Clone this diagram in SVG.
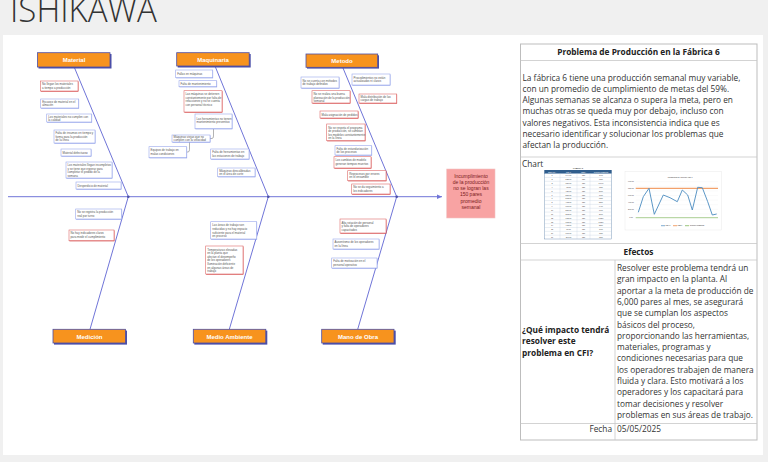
<svg xmlns="http://www.w3.org/2000/svg" width="768" height="462" viewBox="0 0 768 462">
<defs>
<style>
.bone{stroke:#7075d8;stroke-width:1;fill:none}
.cat rect.bg{fill:#f7931e;stroke:#4b4fa8;stroke-width:0.8}
.cat rect.sh{fill:#4b4fa8}
.cat text{font-family:"Liberation Sans",Arial,sans-serif;font-size:6px;font-weight:bold;fill:#fff;text-anchor:middle}
.sb rect.sh{fill:#8fa0ea}
.sb rect.bx{fill:#fff;stroke:#9aa8ec;stroke-width:0.6}
.sr rect.sh{fill:#d23b3b}
.sr rect.bx{fill:#fff;stroke:#de6b6b;stroke-width:0.6}
.sm text{font-family:"Liberation Sans",Arial,sans-serif;font-size:2.9px;fill:#555}
.tb{font-family:"Open Sans","Noto Sans",sans-serif;font-size:8.3px;fill:#333}
.tbb{font-family:"Open Sans","Noto Sans",sans-serif;font-size:8.3px;font-weight:bold;fill:#222}
.grid{stroke:#c8c8c8;stroke-width:0.8;fill:none}
.tt{font-family:"Liberation Sans",Arial,sans-serif;font-size:1.9px;fill:#333;text-anchor:middle}
.link{stroke:#666;stroke-width:0.5;fill:none}
</style>
<marker id="arr" markerWidth="6" markerHeight="6" refX="5" refY="3" orient="auto" markerUnits="userSpaceOnUse">
<path d="M0,0.8 L5,3 L0,5.2 z" fill="#7075d8"/>
</marker>
</defs>
<rect x="0" y="0" width="768" height="462" fill="#f0f0f0"/>
<text x="10" y="22" font-family="'Open Sans','Noto Sans',sans-serif" font-weight="300" font-size="34" fill="#333" textLength="147" lengthAdjust="spacingAndGlyphs">ISHIKAWA</text>
<rect x="3" y="35" width="760" height="420" fill="#fff"/>

<g id="connectors">
<line class="bone" x1="8" y1="196.7" x2="442" y2="196.7" marker-end="url(#arr)"/>
<line class="bone" x1="74.3" y1="67.3" x2="128.3" y2="196.7"/>
<line class="bone" x1="215" y1="66" x2="268.3" y2="196.7"/>
<line class="bone" x1="342.7" y1="67.3" x2="396.7" y2="196.7"/>
<line class="bone" x1="90" y1="329.3" x2="128.3" y2="196.7"/>
<line class="bone" x1="229.3" y1="329.3" x2="268.3" y2="196.7"/>
<line class="bone" x1="357.7" y1="329.3" x2="396.7" y2="196.7"/>
<circle cx="128.3" cy="196.7" r="1.3" fill="#4b4fa8"/>
<circle cx="268.3" cy="196.7" r="1.3" fill="#4b4fa8"/>
<circle cx="396.7" cy="196.7" r="1.3" fill="#4b4fa8"/>
<path class="link" d="M210,138.5 H212 Q213.5,138.5 213.5,136 V128.7"/>
<path class="link" d="M186.7,152 H188 Q189.5,152 189.5,149.5 V142"/>
</g>

<g id="effect">
<rect x="446.7" y="169" width="48.3" height="49" fill="#f8a3a3" stroke="#f2c4c4" stroke-width="0.6"/>
<g font-family="'Liberation Sans',Arial,sans-serif" font-size="5px" fill="#7a2020" text-anchor="middle">
<text x="471" y="177.5">Incumplimiento</text>
<text x="471" y="183.5">de la producción</text>
<text x="471" y="189.5">no se logran las</text>
<text x="471" y="196">150 pares</text>
<text x="471" y="202.5">promedio</text>
<text x="471" y="209">semanal</text>
</g>
</g>

<g id="cat-material" class="cat"><rect class="sh" x="38.5" y="54" width="73" height="14.5"/><rect class="bg" x="37.5" y="52.7" width="72.5" height="14.3"/><text x="74" y="62.2">Material</text></g>
<g id="cat-maquinaria" class="cat"><rect class="sh" x="177.7" y="54" width="73" height="13.5"/><rect class="bg" x="176.7" y="52.7" width="72.5" height="13.3"/><text x="213" y="61.8">Maquinaria</text></g>
<g id="cat-metodo" class="cat"><rect class="sh" x="307" y="55.3" width="72" height="13.3"/><rect class="bg" x="306" y="54" width="71.7" height="13.3"/><text x="342" y="63">Metodo</text></g>
<g id="cat-medicion" class="cat"><rect class="sh" x="54" y="330.6" width="73" height="14"/><rect class="bg" x="53" y="329.3" width="72.5" height="13.7"/><text x="89.5" y="338.5">Medición</text></g>
<g id="cat-medio" class="cat"><rect class="sh" x="194.3" y="330.6" width="73" height="14"/><rect class="bg" x="193.3" y="329.3" width="72.5" height="13.7"/><text x="229.5" y="338.5">Medio Ambiente</text></g>
<g id="cat-mano" class="cat"><rect class="sh" x="322.7" y="330.6" width="73" height="14"/><rect class="bg" x="321.7" y="329.3" width="72.3" height="13.7"/><text x="358" y="338.5">Mano de Obra</text></g>

<!-- Material causes -->
<g id="m1" class="sm sr"><rect class="sh" x="40.9" y="81.4" width="37.5" height="10.2"/><rect class="bx" x="40.5" y="81" width="37.5" height="10"/><text x="42" y="85">No llegan los materiales</text><text x="42" y="88.6">a tiempo a producción</text></g>
<g id="m2" class="sm sb"><rect class="sh" x="41.1" y="99.4" width="38" height="9.2"/><rect class="bx" x="40.7" y="99" width="38" height="9"/><text x="42.2" y="102.8">Escasez de material en el</text><text x="42.2" y="106.3">almacén</text></g>
<g id="m3" class="sm sb"><rect class="sh" x="47.1" y="114.4" width="45" height="8.2"/><rect class="bx" x="46.7" y="114" width="45" height="8"/><text x="48.2" y="117.6">Los materiales no cumplen con</text><text x="48.2" y="121">la calidad</text></g>
<g id="m4" class="sm sb"><rect class="sh" x="54.4" y="130.4" width="41" height="13.2"/><rect class="bx" x="54" y="130" width="41" height="13"/><text x="55.5" y="134">Falta de insumos en tiempo y</text><text x="55.5" y="137.6">forma para la producción</text><text x="55.5" y="141.2">de la línea</text></g>
<g id="m5" class="sm sb"><rect class="sh" x="61.4" y="149.4" width="30" height="7.2"/><rect class="bx" x="61" y="149" width="30" height="7"/><text x="62.5" y="153.6">Material defectuoso</text></g>
<g id="m6" class="sm sb"><rect class="sh" x="66.4" y="162.4" width="46" height="16.2"/><rect class="bx" x="66" y="162" width="46" height="16"/><text x="67.5" y="166">Los materiales llegan incompletos</text><text x="67.5" y="169.6">y se tiene que esperar para</text><text x="67.5" y="173.2">completar el pedido de la</text><text x="67.5" y="176.8">semana</text></g>
<g id="m7" class="sm sb"><rect class="sh" x="76.4" y="182.4" width="45" height="7.2"/><rect class="bx" x="76" y="182" width="45" height="7"/><text x="77.5" y="186.6">Desperdicio de material</text></g>

<!-- Maquinaria causes -->
<g id="q1" class="sm sb"><rect class="sh" x="176.1" y="70.4" width="37" height="7.9"/><rect class="bx" x="175.7" y="70" width="37" height="7.7"/><text x="177.2" y="74.8">Fallas en máquinas</text></g>
<g id="q2" class="sm sb"><rect class="sh" x="179.4" y="81.1" width="37.7" height="6.2"/><rect class="bx" x="179" y="80.7" width="37.7" height="6"/><text x="180.5" y="84.8">Falta de mantenimiento</text></g>
<g id="q3" class="sm sr"><rect class="sh" x="184.4" y="91.1" width="38" height="21.5"/><rect class="bx" x="184" y="90.7" width="38" height="21.3"/><text x="185.5" y="95">Las máquinas se detienen</text><text x="185.5" y="98.6">constantemente por falta de</text><text x="185.5" y="102.2">refacciones y no se cuenta</text><text x="185.5" y="105.8">con personal técnico</text></g>
<g id="q4" class="sm sb"><rect class="sh" x="195.4" y="114.4" width="37" height="14.9"/><rect class="bx" x="195" y="114" width="37" height="14.7"/><text x="196.5" y="119.5">Las herramientas no tienen</text><text x="196.5" y="123.1">mantenimiento preventivo</text></g>
<g id="q5" class="sm sb"><rect class="sh" x="172.4" y="135.4" width="38" height="7.2"/><rect class="bx" x="172" y="135" width="38" height="7"/><text x="173.5" y="138.4">Máquinas viejas que no</text><text x="173.5" y="141.4">cumplen con la velocidad</text></g>
<g id="q6" class="sm sb"><rect class="sh" x="149.4" y="147.1" width="37.7" height="11.2"/><rect class="bx" x="149" y="146.7" width="37.7" height="11"/><text x="150.5" y="151">Equipos de trabajo en</text><text x="150.5" y="154.6">malas condiciones</text></g>
<g id="q7" class="sm sb"><rect class="sh" x="211.1" y="149.4" width="38.3" height="10.2"/><rect class="bx" x="210.7" y="149" width="38.3" height="10"/><text x="212.2" y="153">Falta de herramientas en</text><text x="212.2" y="156.6">las estaciones de trabajo</text></g>
<g id="q8" class="sm sb"><rect class="sh" x="218.1" y="168.4" width="37.3" height="8.9"/><rect class="bx" x="217.7" y="168" width="37.3" height="8.7"/><text x="219.2" y="171.8">Máquinas descalibradas</text><text x="219.2" y="175.2">en el área de corte</text></g>

<!-- Metodo causes -->
<g id="t1" class="sm sb"><rect class="sh" x="301.4" y="77.4" width="38" height="11.2"/><rect class="bx" x="301" y="77" width="38" height="11"/><text x="302.5" y="81.5">No se cuenta con métodos</text><text x="302.5" y="85.1">de trabajo definidos</text></g>
<g id="t2" class="sm sb"><rect class="sh" x="352.4" y="74.4" width="38" height="11.2"/><rect class="bx" x="352" y="74" width="38" height="11"/><text x="353.5" y="78.5">Procedimientos no están</text><text x="353.5" y="82.1">actualizados ni claros</text></g>
<g id="t3" class="sm sr"><rect class="sh" x="312.4" y="91.1" width="38" height="12.5"/><rect class="bx" x="312" y="90.7" width="38" height="12.3"/><text x="313.5" y="95.3">No se realiza una buena</text><text x="313.5" y="98.9">planeación de la producción</text><text x="313.5" y="102.3">semanal</text></g>
<g id="t4" class="sm sr"><rect class="sh" x="359.4" y="94.4" width="37.7" height="9.2"/><rect class="bx" x="359" y="94" width="37.7" height="9"/><text x="360.5" y="97.8">Mala distribución de las</text><text x="360.5" y="101.4">cargas de trabajo</text></g>
<g id="t5" class="sm sr"><rect class="sh" x="320.4" y="111.4" width="38" height="7.2"/><rect class="bx" x="320" y="111" width="38" height="7"/><text x="321.5" y="115.6">Mala asignación de pedidos</text></g>
<g id="t6" class="sm sr"><rect class="sh" x="327.1" y="124.4" width="38.3" height="16.9"/><rect class="bx" x="326.7" y="124" width="38.3" height="16.7"/><text x="328.2" y="128.5">No se respeta el programa</text><text x="328.2" y="132.1">de producción, se cambian</text><text x="328.2" y="135.7">los modelos constantemente</text><text x="328.2" y="139.3">en la línea</text></g>
<g id="t7" class="sm sb"><rect class="sh" x="335.4" y="146.1" width="36.7" height="9.5"/><rect class="bx" x="335" y="145.7" width="36.7" height="9.3"/><text x="336.5" y="149.6">Falta de estandarización</text><text x="336.5" y="153.2">de los procesos</text></g>
<g id="t8" class="sm sr"><rect class="sh" x="334.4" y="157.1" width="37" height="11.5"/><rect class="bx" x="334" y="156.7" width="37" height="11.3"/><text x="335.5" y="161">Los cambios de modelo</text><text x="335.5" y="164.6">generan tiempos muertos</text></g>
<g id="t9" class="sm sr"><rect class="sh" x="348.1" y="171.1" width="38.3" height="10.2"/><rect class="bx" x="347.7" y="170.7" width="38.3" height="10"/><text x="349.2" y="174.8">Reprocesos por errores</text><text x="349.2" y="178.4">en el ensamble</text></g>
<g id="t10" class="sm sr"><rect class="sh" x="352.1" y="184.4" width="38.3" height="10.2"/><rect class="bx" x="351.7" y="184" width="38.3" height="10"/><text x="353.2" y="188.1">No se da seguimiento a</text><text x="353.2" y="191.7">los indicadores</text></g>

<!-- Medicion causes -->
<g id="d1" class="sm sb"><rect class="sh" x="76.1" y="209.4" width="46" height="10.2"/><rect class="bx" x="75.7" y="209" width="46" height="10"/><text x="77.2" y="213.1">No se registra la producción</text><text x="77.2" y="216.7">real por turno</text></g>
<g id="d2" class="sm sr"><rect class="sh" x="69.4" y="230.4" width="45" height="10.9"/><rect class="bx" x="69" y="230" width="45" height="10.7"/><text x="70.5" y="234.3">No hay indicadores claros</text><text x="70.5" y="237.9">para medir el cumplimiento</text></g>

<!-- Medio Ambiente causes -->
<g id="a1" class="sm sb"><rect class="sh" x="211.1" y="222.1" width="46" height="17.5"/><rect class="bx" x="210.7" y="221.7" width="46" height="17.3"/><text x="212.2" y="226.3">Las áreas de trabajo son</text><text x="212.2" y="229.9">reducidas y no hay espacio</text><text x="212.2" y="233.5">suficiente para el material</text><text x="212.2" y="237.1">en proceso</text></g>
<g id="a2" class="sm sr"><rect class="sh" x="206.1" y="246.4" width="37.3" height="28.2"/><rect class="bx" x="205.7" y="246" width="37.3" height="28"/><text x="207.2" y="250.5">Temperaturas elevadas</text><text x="207.2" y="254.1">en la planta que</text><text x="207.2" y="257.7">afectan el desempeño</text><text x="207.2" y="261.3">de los operadores</text><text x="207.2" y="264.9">Iluminación deficiente</text><text x="207.2" y="268.5">en algunas áreas de</text><text x="207.2" y="272.1">trabajo</text></g>

<!-- Mano de Obra causes -->
<g id="o1" class="sm sr"><rect class="sh" x="340.4" y="219.4" width="46" height="14.2"/><rect class="bx" x="340" y="219" width="46" height="14"/><text x="341.5" y="223.6">Alta rotación de personal</text><text x="341.5" y="227.2">y falta de operadores</text><text x="341.5" y="230.8">capacitados</text></g>
<g id="o2" class="sm sb"><rect class="sh" x="333.4" y="239.4" width="46" height="10.2"/><rect class="bx" x="333" y="239" width="46" height="10"/><text x="334.5" y="243.1">Ausentismo de los operadores</text><text x="334.5" y="246.7">en la línea</text></g>
<g id="o3" class="sm sb"><rect class="sh" x="332.1" y="258.4" width="45.3" height="10.2"/><rect class="bx" x="331.7" y="258" width="45.3" height="10"/><text x="333.2" y="262.1">Falta de motivación en el</text><text x="333.2" y="265.7">personal operativo</text></g>

<!-- Right table -->
<g id="table">
<rect x="520.5" y="44" width="236.5" height="396" fill="#fff" stroke="#bdbdbd" stroke-width="1"/>
<line class="grid" x1="520.5" y1="60.5" x2="757" y2="60.5"/>
<line class="grid" x1="520.5" y1="157" x2="757" y2="157"/>
<line class="grid" x1="520.5" y1="243.5" x2="757" y2="243.5"/>
<line class="grid" x1="520.5" y1="260" x2="757" y2="260"/>
<line class="grid" x1="520.5" y1="423.5" x2="757" y2="423.5"/>
<line class="grid" x1="615" y1="260" x2="615" y2="440"/>
<text class="tbb" x="638.5" y="55" text-anchor="middle">Problema de Producción en la Fábrica 6</text>
<text class="tb" x="522.5" y="81">La fábrica 6 tiene una producción semanal muy variable,</text>
<text class="tb" x="522.5" y="92.2">con un promedio de cumplimiento de metas del 59%.</text>
<text class="tb" x="522.5" y="103.3">Algunas semanas se alcanza o supera la meta, pero en</text>
<text class="tb" x="522.5" y="114.4">muchas otras se queda muy por debajo, incluso con</text>
<text class="tb" x="522.5" y="125.5">valores negativos. Esta inconsistencia indica que es</text>
<text class="tb" x="522.5" y="136.6">necesario identificar y solucionar los problemas que</text>
<text class="tb" x="522.5" y="147.7">afectan la producción.</text>
<text class="tb" x="522" y="167" fill="#555">Chart</text>
<text class="tbb" x="638.5" y="255" text-anchor="middle">Efectos</text>
<text class="tbb" x="522" y="333">¿Qué impacto tendrá</text>
<text class="tbb" x="522" y="344.3">resolver este</text>
<text class="tbb" x="522" y="355.6">problema en CFI?</text>
<g class="tb">
<text x="617" y="271">Resolver este problema tendrá un</text>
<text x="617" y="282.3">gran impacto en la planta. Al</text>
<text x="617" y="293.6">aportar a la meta de producción de</text>
<text x="617" y="304.9">6,000 pares al mes, se asegurará</text>
<text x="617" y="316.2">que se cumplan los aspectos</text>
<text x="617" y="327.5">básicos del proceso,</text>
<text x="617" y="338.8">proporcionando las herramientas,</text>
<text x="617" y="350.1">materiales, programas y</text>
<text x="617" y="361.4">condiciones necesarias para que</text>
<text x="617" y="372.7">los operadores trabajen de manera</text>
<text x="617" y="384">fluida y clara. Esto motivará a los</text>
<text x="617" y="395.3">operadores y los capacitará para</text>
<text x="617" y="406.6">tomar decisiones y resolver</text>
<text x="617" y="417.9">problemas en sus áreas de trabajo.</text>
</g>
<text class="tb" x="612" y="432" text-anchor="end">Fecha</text>
<text class="tb" x="617" y="432">05/05/2025</text>
</g>

<!-- embedded data table -->
<g id="data-table">
<text class="tt" x="578" y="168.8" font-weight="bold">FABRICA 6</text>
<rect x="544.3" y="170" width="67.4" height="3.6" fill="#2f5d8c"/>
<g class="tt" fill="#fff"><text x="552" y="172.5" fill="#fff">SEMANA</text><text x="568.5" y="172.5" fill="#fff">REAL</text><text x="583.5" y="172.5" fill="#fff">META</text><text x="601" y="172.5" fill="#fff">CUMPLIMIENTO</text></g>
<rect x="544.3" y="173.6" width="67.4" height="65.4" fill="#fff" stroke="#5a7fa8" stroke-width="0.4"/>
<path d="M544.3,177.45H611.7M544.3,181.3H611.7M544.3,185.15H611.7M544.3,189H611.7M544.3,192.85H611.7M544.3,196.7H611.7M544.3,200.55H611.7M544.3,204.4H611.7M544.3,208.25H611.7M544.3,212.1H611.7M544.3,215.95H611.7M544.3,219.8H611.7M544.3,223.65H611.7M544.3,227.5H611.7M544.3,231.35H611.7M544.3,235.2H611.7M560,173.6V239M577,173.6V239M590,173.6V239" stroke="#b7c7da" stroke-width="0.3" fill="none"/>
<g class="tt">
<text x="552" y="176.3">1</text><text x="568.5" y="176.3">144.00</text><text x="583.5" y="176.3">750</text><text x="601" y="176.3">19%</text>
<text x="552" y="180.2">2</text><text x="568.5" y="180.2">538.00</text><text x="583.5" y="180.2">750</text><text x="601" y="180.2">72%</text>
<text x="552" y="184">3</text><text x="568.5" y="184">780.00</text><text x="583.5" y="184">750</text><text x="601" y="184">104%</text>
<text x="552" y="187.9">4</text><text x="568.5" y="187.9">93.00</text><text x="583.5" y="187.9">750</text><text x="601" y="187.9">12%</text>
<text x="552" y="191.7">5</text><text x="568.5" y="191.7">420.00</text><text x="583.5" y="191.7">750</text><text x="601" y="191.7">56%</text>
<text x="552" y="195.6">6</text><text x="568.5" y="195.6">581.00</text><text x="583.5" y="195.6">750</text><text x="601" y="195.6">77%</text>
<text x="552" y="199.4">7</text><text x="568.5" y="199.4">513.00</text><text x="583.5" y="199.4">750</text><text x="601" y="199.4">68%</text>
<text x="552" y="203.3">8</text><text x="568.5" y="203.3">412.00</text><text x="583.5" y="203.3">750</text><text x="601" y="203.3">55%</text>
<text x="552" y="207.1">9</text><text x="568.5" y="207.1">707.00</text><text x="583.5" y="207.1">750</text><text x="601" y="207.1">94%</text>
<text x="552" y="211">10</text><text x="568.5" y="211">581.00</text><text x="583.5" y="211">750</text><text x="601" y="211">77%</text>
<text x="552" y="214.8">11</text><text x="568.5" y="214.8">202.00</text><text x="583.5" y="214.8">750</text><text x="601" y="214.8">27%</text>
<text x="552" y="218.7">12</text><text x="568.5" y="218.7">775.00</text><text x="583.5" y="218.7">750</text><text x="601" y="218.7">103%</text>
<text x="552" y="222.5">13</text><text x="568.5" y="222.5">765.00</text><text x="583.5" y="222.5">750</text><text x="601" y="222.5">102%</text>
<text x="552" y="226.4">14</text><text x="568.5" y="226.4">412.00</text><text x="583.5" y="226.4">750</text><text x="601" y="226.4">55%</text>
<text x="552" y="230.2">15</text><text x="568.5" y="230.2">76.00</text><text x="583.5" y="230.2">750</text><text x="601" y="230.2">10%</text>
<text x="552" y="234.1">16</text><text x="568.5" y="234.1">101.00</text><text x="583.5" y="234.1">750</text><text x="601" y="234.1">13%</text>
<text x="552" y="237.9">17</text><text x="568.5" y="237.9">110.00</text><text x="583.5" y="237.9">750</text><text x="601" y="237.9">15%</text>
</g>
</g>

<!-- embedded chart -->
<g id="chart">
<rect x="625" y="171.7" width="96.7" height="58.3" fill="#fff" stroke="#e4e4e4" stroke-width="0.4"/>
<text class="tt" x="680" y="177.8" font-size="2.6px" fill="#555">Variabilidad de proceso Fab 6</text>
<path d="M635.7,181.7H718M635.7,186.3H718M635.7,190.9H718M635.7,195.5H718M635.7,200.1H718M635.7,204.7H718M635.7,209.3H718M635.7,213.9H718" stroke="#eee" stroke-width="0.3"/>
<line x1="635.7" y1="188.3" x2="718" y2="188.3" stroke="#ed7d31" stroke-width="0.9"/>
<line x1="635.7" y1="217.7" x2="718" y2="217.7" stroke="#70ad47" stroke-width="0.6"/>
<polyline points="638.3,212.3 643.3,196.7 649,188.3 654.3,214.3 663.3,195 670,197.7 677.3,201.7 682.3,190 687.7,195 692.3,210 697.7,187.3 702.3,187.7 707.7,201.7 712.3,215 716.7,214" fill="none" stroke="#4a8bbf" stroke-width="0.9"/>
<g class="tt" font-size="1.6px" fill="#888"><text x="631" y="182.3">900.00</text><text x="631" y="189">750.00</text><text x="631" y="196">600.00</text><text x="631" y="203">400.00</text><text x="631" y="210">200.00</text><text x="631" y="218.3">0.00</text></g>
<line x1="661" y1="225.7" x2="665" y2="225.7" stroke="#4a8bbf" stroke-width="0.7"/><text class="tt" x="668" y="226.4" font-size="1.7px" fill="#666">REAL</text>
<line x1="673" y1="225.7" x2="677" y2="225.7" stroke="#ed7d31" stroke-width="0.7"/><text class="tt" x="680" y="226.4" font-size="1.7px" fill="#666">META</text>
<line x1="685" y1="225.7" x2="689" y2="225.7" stroke="#70ad47" stroke-width="0.7"/><text class="tt" x="697" y="226.4" font-size="1.7px" fill="#666">CUMPLIMIENTO</text>
</g>
</svg>
